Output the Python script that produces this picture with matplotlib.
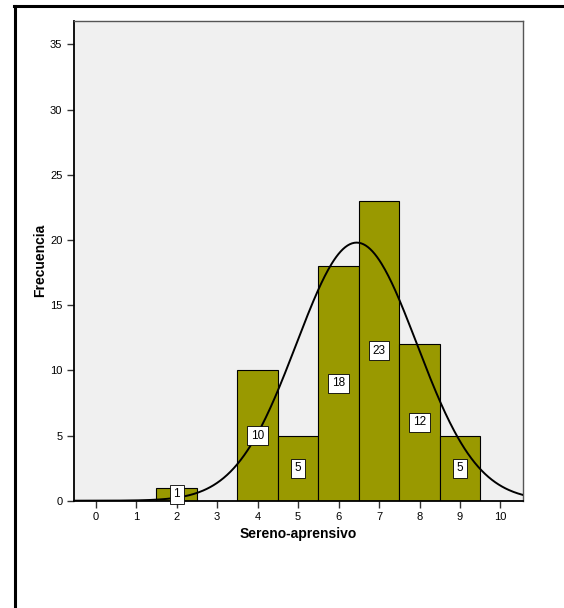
import numpy as np
import matplotlib
matplotlib.use("Agg")
import matplotlib.pyplot as plt
from matplotlib.lines import Line2D

plt.rcParams['font.family'] = ['Liberation Sans', 'DejaVu Sans']

# Frequency of each score on the Sereno-aprensivo scale
scores = [2, 4, 5, 6, 7, 8, 9]
counts = [1, 10, 5, 18, 23, 12, 5]
x_ticks = list(range(0, 11))
y_ticks = [0, 5, 10, 15, 20, 25, 30, 35]

fig = plt.figure(figsize=(5.64, 6.08), dpi=100)
fig.patch.set_facecolor('white')

# Outer frame (left and top edges)
fig.add_artist(Line2D([14.5 / 564, 14.5 / 564], [0, 1 - 5.5 / 608],
                      transform=fig.transFigure, color='black', lw=2.2))
fig.add_artist(Line2D([13.5 / 564, 1], [1 - 5.5 / 608, 1 - 5.5 / 608],
                      transform=fig.transFigure, color='black', lw=2.2))

ax = fig.add_axes([73.5 / 564, 107.3 / 608, (522.7 - 73.5) / 564, (500.7 - 21) / 608])
ax.set_facecolor('#f0f0f0')

ax.bar(scores, counts, width=1.0, color='#999900', edgecolor='black', linewidth=0.8, zorder=2)

# Normal curve fitted to the same data
vals = np.repeat(scores, counts)
n = len(vals)
mu = vals.mean()
sd = vals.std(ddof=1)
xs = np.linspace(-0.6, 10.6, 400)
ys = n * np.exp(-0.5 * ((xs - mu) / sd) ** 2) / (sd * np.sqrt(2 * np.pi))
ax.plot(xs, ys, color='black', lw=1.4, zorder=3)

# Count labels in the middle of each bar
for s, c in zip(scores, counts):
    ax.text(s, c / 2, str(c), ha='center', va='center', fontsize=8.5, zorder=4,
            bbox=dict(boxstyle='square,pad=0.3', facecolor='white', edgecolor='black', linewidth=0.6))

ax.set_xlim(-0.55, 10.55)
ax.set_ylim(0, 36.8)
ax.set_xticks(x_ticks)
ax.set_yticks(y_ticks)
ax.tick_params(axis='both', direction='out', length=5, width=1, labelsize=8, pad=3, color='#333333')
for side in ['top', 'right']:
    ax.spines[side].set_color('#555555')
    ax.spines[side].set_linewidth(1.0)
for side in ['left', 'bottom']:
    ax.spines[side].set_color('black')
    ax.spines[side].set_linewidth(1.3)

ax.set_xlabel('Sereno-aprensivo', fontsize=10, fontweight='bold', labelpad=4)
ax.set_ylabel('Frecuencia', fontsize=10, fontweight='bold', labelpad=2)

fig.savefig('out.png', dpi=100)
